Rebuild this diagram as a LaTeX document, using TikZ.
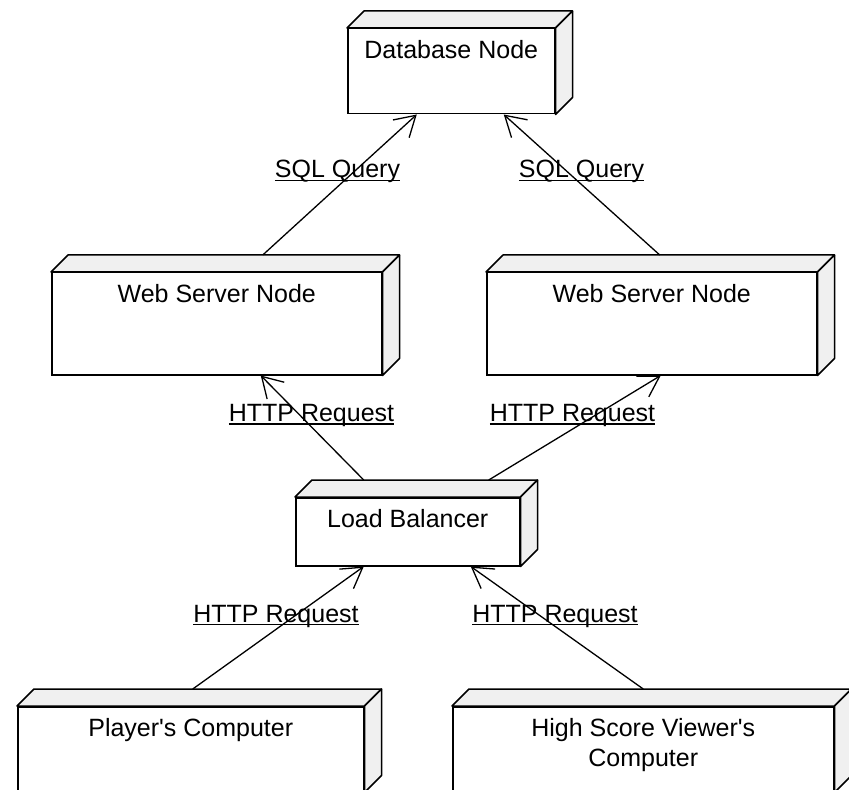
\documentclass[tikz,border=0pt]{standalone}
\usepackage{fontspec}
\setmainfont{Liberation Sans}
\usepackage{tikz}
\usetikzlibrary{positioning,arrows.meta,calc}

\definecolor{facegray}{RGB}{240,240,240}
\newcommand{\linkname}[1]{\setbox0=\hbox{#1}\rlap{\rule[-1.6pt]{\wd0}{0.7pt}}\box0}

\begin{document}
\begin{tikzpicture}[
    x=0.5pt, y=-0.5pt,
    >={Straight Barb[length=10pt,width=12pt]},
    box/.style={rectangle, draw, fill=white, line width=0.75pt, anchor=north west, inner xsep=0pt, inner ysep=5pt, text height=10pt, align=center, font=\fontsize{12.5}{15}\selectfont},
    face/.style={draw, fill=facegray, line width=0.75pt, line join=round},
    arrow/.style={->, line width=0.65pt},
    linklabel/.style={inner sep=0pt, anchor=base, font=\fontsize{12.5}{15}\selectfont}
]
\path[use as bounding box] (0,0) rectangle (849,790);
\clip (0,0) rectangle (849,790);

\node[box, minimum width=103.5pt, text depth=22.5pt] (db) at (347,28) {Database Node};
\node[box, minimum width=165pt, text depth=31pt] (web1) at (51,272) {Web Server Node};
\node[box, minimum width=165pt, text depth=31pt] (web2) at (486,272) {Web Server Node};
\node[box, minimum width=112pt, text depth=14pt] (lb) at (295,497) {Load Balancer};
\node[box, minimum width=173pt, text depth=22.5pt] (player) at (17,706) {Player{\textquotesingle}s Computer};
\node[box, minimum width=190.5pt, text height=25pt, text depth=7.5pt] (viewer) at (452,706) {High Score Viewer{\textquotesingle}s\\Computer};

% top and side faces
\foreach \n in {db,web1,web2,lb,player,viewer}{
  \draw[face] (\n.north west) -- ++(17,-17) -- ($(\n.north east)+(17,-17)$) -- (\n.north east) -- cycle;
  \draw[face] (\n.north east) -- ++(17,-17) -- ($(\n.south east)+(17,-17)$) -- (\n.south east) -- cycle;
}

\draw[arrow] ($(web1.north)+(46,-17)$) -- ($(db.south)+(-34.5,0)$);
\draw[arrow] ($(web2.north)+(8,-17)$) -- ($(db.south)+(52.5,0)$);
\draw[arrow] ($(lb.north)+(-44,-17)$) -- ($(web1.south)+(44,0)$);
\draw[arrow] ($(lb.north)+(81,-17)$) -- ($(web2.south)+(9,0)$);
\draw[arrow] ($(player.north)+(2,-17)$) -- ($(lb.south)+(-44,0)$);
\draw[arrow] ($(viewer.north)+(0,-17)$) -- ($(lb.south)+(63,0)$);

\node[linklabel] (sql1) at (337.5,178) {\linkname{SQL Query}};
\node[linklabel] (sql2) at (581.5,178) {\linkname{SQL Query}};
\node[linklabel] (http1) at (311.5,421.5) {\linkname{HTTP Request}};
\node[linklabel] (http2) at (572.5,421.5) {\linkname{HTTP Request}};
\node[linklabel] (http3) at (276,622) {\linkname{HTTP Request}};
\node[linklabel] (http4) at (555,622) {\linkname{HTTP Request}};
\end{tikzpicture}
\end{document}
